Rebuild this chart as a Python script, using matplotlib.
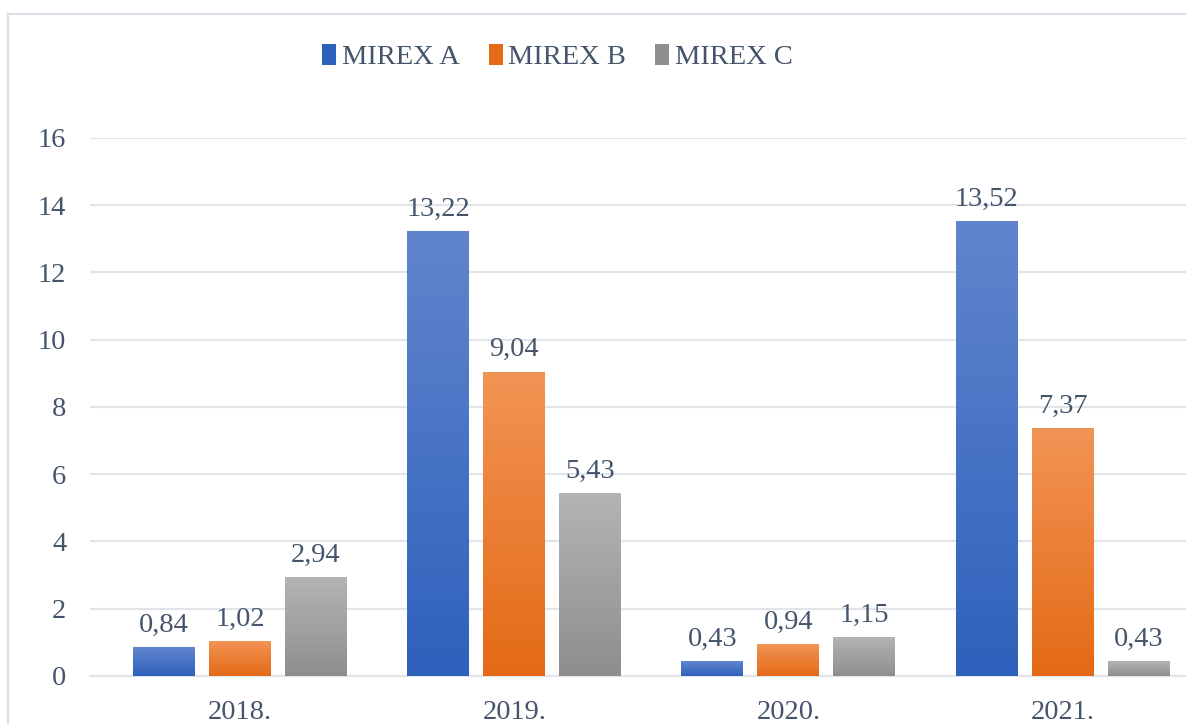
import numpy as np
import matplotlib
matplotlib.use('Agg')
import matplotlib.pyplot as plt
from matplotlib.colors import LinearSegmentedColormap
from matplotlib.patches import Patch
from matplotlib.lines import Line2D

# data
years = ['2018.', '2019.', '2020.', '2021.']
series_names = ['MIREX A', 'MIREX B', 'MIREX C']
mirex_a = [0.84, 13.22, 0.43, 13.52]
mirex_b = [1.02, 9.04, 0.94, 7.37]
mirex_c = [2.94, 5.43, 1.15, 0.43]
y_ticks = [0, 2, 4, 6, 8, 10, 12, 14, 16]

# (top colour, bottom colour) for the gradient fills
grads = [('#6185CD', '#2E61BC'), ('#F29455', '#E46A15'), ('#B4B4B4', '#8E8E8E')]
text_col = '#44546A'
grid_col = '#E1E5EB'

plt.rcParams['font.family'] = ['Liberation Serif', 'DejaVu Serif']

fig = plt.figure(figsize=(11.86, 7.24), dpi=100)
ax = fig.add_axes([0.0759, 0.0663, 0.9241, 0.7431])

x = np.arange(len(years))
width = 0.226
step = 0.277
gradient = np.linspace(0, 1, 256).reshape(-1, 1)

for i, vals in enumerate([mirex_a, mirex_b, mirex_c]):
    top, bottom = grads[i]
    cmap = LinearSegmentedColormap.from_list('g%d' % i, [bottom, top])
    bars = ax.bar(x + (i - 1) * step, vals, width, color=bottom, zorder=2)
    for b in bars:
        x0, y0 = b.get_x(), b.get_y()
        ax.imshow(gradient, cmap=cmap, origin='lower', aspect='auto',
                  extent=(x0, x0 + b.get_width(), y0, y0 + b.get_height()),
                  zorder=3, interpolation='bicubic')
    labels = [('%.2f' % v).replace('.', ',') for v in vals]
    ax.bar_label(bars, labels=labels, padding=7, fontsize=20.5, color=text_col)

ax.set_xlim(-0.547, 3.45)
ax.set_ylim(0, 16)
ax.set_yticks(y_ticks)
ax.set_xticks(x)
ax.set_xticklabels(years)
ax.tick_params(axis='both', length=0, labelsize=20.5, colors=text_col)
ax.tick_params(axis='y', pad=17)
ax.tick_params(axis='x', pad=17)
ax.grid(axis='y', color=grid_col, linewidth=1.5, zorder=0)
ax.set_axisbelow(True)
for s in ['top', 'right', 'left']:
    ax.spines[s].set_visible(False)
ax.spines['bottom'].set_color(grid_col)
ax.spines['bottom'].set_linewidth(1.5)

handles = [Patch(facecolor=g[1], edgecolor='none') for g in grads]
leg = fig.legend(handles, series_names, loc='center', bbox_to_anchor=(0.47, 0.921),
                 ncol=3, frameon=False, fontsize=20.5, handlelength=0.5, handleheight=0.75,
                 handletextpad=0.2, columnspacing=1.0, labelcolor=text_col)

# chart area border (left and top visible in the crop)
fig.add_artist(Line2D([8 / 1186, 8 / 1186], [0, 1 - 14 / 724], transform=fig.transFigure,
                      color='#D9DEE6', linewidth=1.5))
fig.add_artist(Line2D([8 / 1186, 1], [1 - 14 / 724, 1 - 14 / 724], transform=fig.transFigure,
                      color='#D9DEE6', linewidth=1.5))

fig.savefig('out.png', dpi=100)
